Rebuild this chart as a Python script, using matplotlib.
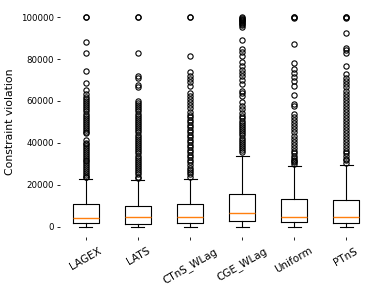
import numpy as np
import matplotlib.pyplot as plt

methods = ["LAGEX", "LATS", "CTnS_WLag", "CGE_WLag", "Uniform", "PTnS"]

# box statistics (in thousands)
q1 = [2.1, 1.6, 2.0, 3.0, 2.4, 2.1]
med = [4.45, 4.6, 4.5, 6.65, 4.75, 4.75]
q3 = [10.8, 10.0, 10.8, 15.5, 13.1, 13.0]
whis_lo = [0, 0, 0, 0, 0, 0]
whis_hi = [23.0, 22.2, 23.0, 33.9, 29.0, 29.3]

# outliers (in thousands)
fliers_lagex = [100, 100, 88, 83, 74.5, 68.5, 65.4, 63.5, 62, 61, 60, 59, 58, 57,
                56, 55, 54, 53, 52, 51, 50, 49, 48, 47, 46, 45, 44.6, 41.2, 40.2,
                39.3, 38.4, 37.5, 36.6, 35.7, 34.8, 33.9, 33, 32.1, 31.2, 30.3,
                29.4, 28.5, 27.6, 26.7, 25.8, 24.9, 24, 23.6]
fliers_lats = [100, 100, 83, 72, 71, 67.7, 66.5, 60.2, 59, 58, 57, 56, 55, 54,
               53, 52, 51, 50, 49, 48, 47, 46, 45, 44, 43, 42, 41, 40, 39, 38,
               37, 36, 35, 34, 33, 32, 31, 30, 29, 28, 27, 26, 25, 24, 23.1]
fliers_ctns = [100, 100, 81.5, 73.6, 72, 70.5, 69, 67.3, 64, 62.5, 61, 59.5, 58,
               56.5, 54.7, 53.5, 52.3, 51.1, 49.9, 48.7, 47.5, 46.3, 45.1, 43.9,
               42.7, 41.5, 40.3, 39.1, 37.9, 36.7, 35.5, 34.3, 33.1, 31.9, 30.7,
               29.5, 28.3, 27.1, 26.1, 25, 24]
fliers_cge = [100, 99.6, 99.2, 98.8, 98.4, 98, 97.5, 97, 96.5, 96, 95.3, 89, 84.8,
              83.5, 81.5, 78.5, 76.5, 75, 73.5, 72, 70, 68, 65, 63.8, 62.6, 59.5,
              57.5, 56, 54.5, 53, 51.8, 50.6, 49.6, 48.6, 47.6, 46.6, 45.6, 44.6,
              43.6, 42.6, 41.6, 40.6, 39.6, 38.6, 37.6, 36.6, 35.7]
fliers_uniform = [100, 100, 99.6, 87, 78.3, 75.2, 73.5, 71.5, 69.5, 67.3, 62.8,
                  58.8, 57.8, 54, 52.5, 51, 49.5, 48, 46.5, 45, 43.5, 42, 40.5,
                  39, 37.5, 36, 35, 34, 33, 32, 31.5, 30.8, 30]
fliers_ptns = [100, 100, 99.6, 92.5, 85.4, 84.2, 83.1, 76.7, 72.8, 71, 69.5, 68,
               66.5, 65, 63.5, 62, 60.5, 59, 57.5, 56.3, 54.7, 53.2, 51.8, 50.4,
               49, 47.6, 46.2, 44.8, 43.4, 42, 40.6, 39.2, 37.8, 36.4, 35, 33.6,
               32.5, 31.8, 30.5]

fliers = [fliers_lagex, fliers_lats, fliers_ctns, fliers_cge, fliers_uniform, fliers_ptns]

stats = []
for i, m in enumerate(methods):
    stats.append(dict(label=m,
                      med=med[i] * 1000, q1=q1[i] * 1000, q3=q3[i] * 1000,
                      whislo=whis_lo[i] * 1000, whishi=whis_hi[i] * 1000,
                      fliers=np.array(fliers[i]) * 1000))

fig, ax = plt.subplots(figsize=(3.77, 2.85), dpi=100)
fig.subplots_adjust(left=0.159, right=0.987, top=0.977, bottom=0.167)

lw = 0.8
ax.bxp(stats,
       boxprops=dict(linewidth=lw),
       whiskerprops=dict(linewidth=lw),
       capprops=dict(linewidth=lw),
       medianprops=dict(linewidth=1.0, color="C1"),
       flierprops=dict(marker="o", markersize=3.8, markerfacecolor="none",
                       markeredgecolor="black", markeredgewidth=0.8))

for s in ax.spines.values():
    s.set_visible(False)

ax.set_yticks([0, 20000, 40000, 60000, 80000, 100000])
ax.tick_params(axis="y", labelsize=6.2, length=2.5, width=0.6, pad=2)
ax.tick_params(axis="x", labelsize=7.5, length=2.5, width=0.6)
plt.setp(ax.get_xticklabels(), rotation=30)
ax.set_ylabel("Constraint violation", fontsize=7.8)

plt.savefig("out.png", dpi=100)
